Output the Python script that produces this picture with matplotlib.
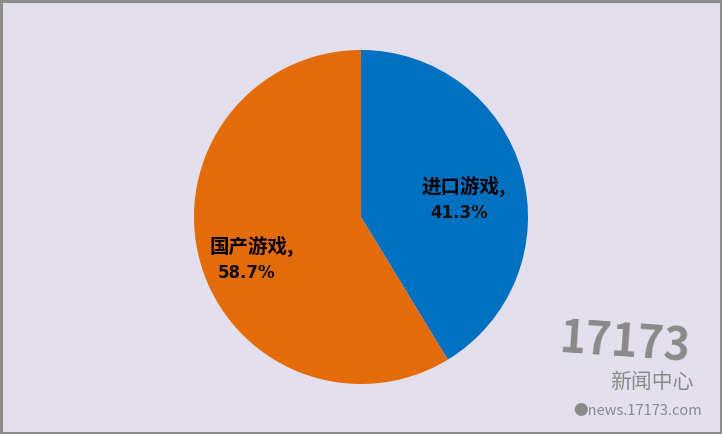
import matplotlib
matplotlib.use("Agg")
import matplotlib.pyplot as plt

# data
categories = ["进口游戏", "国产游戏"]
shares = [41.3, 58.7]
colors = ["#0070C0", "#E36C09"]

plt.rcParams["font.family"] = ["Noto Sans CJK SC", "DejaVu Sans"]

W, H = 722, 434
fig = plt.figure(figsize=(W / 100, H / 100), dpi=100)
fig.patch.set_facecolor("#E4DFEC")
ax = fig.add_axes([0, 0, 1, 1])

# grey frame
ax.add_patch(plt.Rectangle((1, 1), W - 2, H - 2, fill=False, ec="#8C8C8C", lw=2.2))

wedges, _ = ax.pie(shares, colors=colors, startangle=90, counterclock=False,
                   center=(361, 217), radius=167, frame=True)
ax.set_xlim(0, W)
ax.set_ylim(0, H)
ax.set_aspect("equal")
ax.axis("off")

# labels: name on first line, percent below
label_pos = [(459, 234), (247, 174)]
for name, v, (x, y) in zip(categories, shares, label_pos):
    ax.text(x + 5, y + 14, name + ",", ha="center", va="center",
            fontsize=14, fontweight="bold", color="black")
    ax.text(x, y - 13, f"{v:.1f}%", ha="center", va="center",
            fontsize=12, fontweight="bold", color="#111111", family="DejaVu Sans")

# watermark
ax.text(625, 90, "17173", ha="center", va="center", fontsize=32, fontweight="heavy",
        color="#8A8A8A", rotation=-4)
ax.text(652, 52, "新闻中心", ha="center", va="center", fontsize=15, color="#8A8A8A")
ax.text(638, 23, "●news.17173.com", ha="center", va="center", fontsize=10.5, color="#8A8A8A")

fig.savefig("out.png", dpi=100, facecolor=fig.get_facecolor())
